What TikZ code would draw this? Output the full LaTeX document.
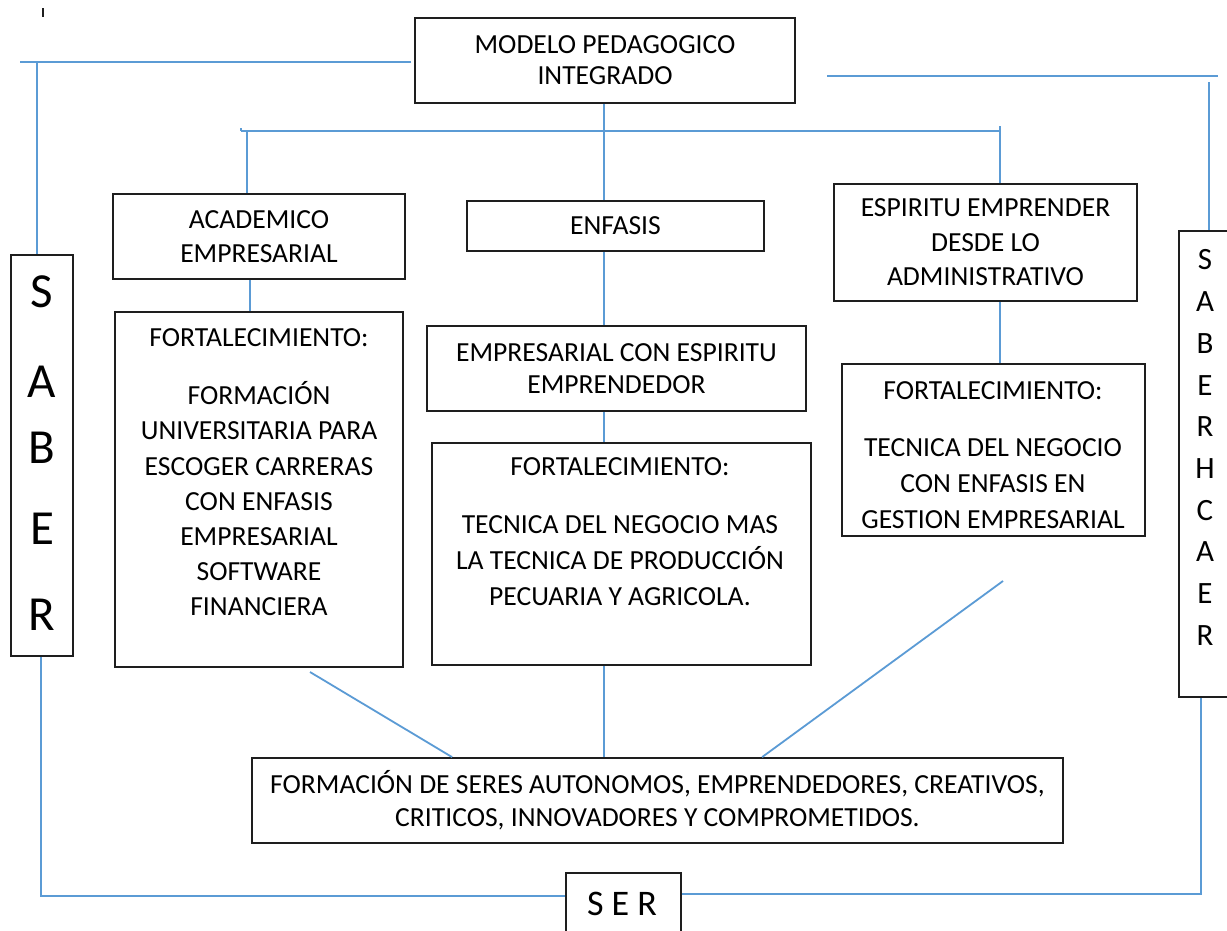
\documentclass[tikz,border=0pt]{standalone}
\usepackage{fontspec}
\setmainfont{Carlito}
\definecolor{linkblue}{RGB}{91,155,213}
\definecolor{boxline}{RGB}{30,30,30}
\begin{document}
\begin{tikzpicture}[x=1pt,y=-1pt,
  box/.style={draw=boxline,line width=1.8pt,rectangle,inner sep=0pt,align=center,
    font=\fontsize{27.6}{34}\selectfont},
  txt/.style={inner sep=0pt,align=center,font=\fontsize{27.6}{36}\selectfont},
  big/.style={inner sep=0pt,font=\fontsize{49}{49}\selectfont},
  mid/.style={inner sep=0pt,font=\fontsize{31}{31}\selectfont},
  link/.style={draw=linkblue,line width=1.8pt}]
\useasboundingbox (0,0) rectangle (1227,930);
\fill[white] (0,0) rectangle (1227,930);

% boxes
\node[box,minimum width=380pt,minimum height=85pt,font=\fontsize{27.6}{31}\selectfont] (top) at (605,60.5) {MODELO PEDAGOGICO\\INTEGRADO};
\node[box,minimum width=292pt,minimum height=85pt] (acad) at (259,236.5) {ACADEMICO\\EMPRESARIAL};
\node[box,minimum width=297pt,minimum height=50pt] (enf) at (615.5,226) {ENFASIS};
\node[box,minimum width=303pt,minimum height=117pt,font=\fontsize{27.6}{34.5}\selectfont] (esp) at (985.5,242.5) {ESPIRITU EMPRENDER\\DESDE LO\\ADMINISTRATIVO};
\node[box,minimum width=379pt,minimum height=85pt,font=\fontsize{27.6}{32}\selectfont] (emp) at (616.5,368.5) {EMPRESARIAL CON ESPIRITU\\EMPRENDEDOR};
\node[box,minimum width=288pt,minimum height=355pt] (lf) at (259,489.5) {};
\node[box,minimum width=379pt,minimum height=222pt] (mf) at (621.5,554) {};
\node[box,minimum width=303pt,minimum height=172pt] (rf) at (993.5,450) {};
\node[box,minimum width=811pt,minimum height=85pt,font=\fontsize{27.6}{33}\selectfont] (form) at (657.5,800.5) {FORMACIÓN DE SERES AUTONOMOS, EMPRENDEDORES, CREATIVOS,\\CRITICOS, INNOVADORES Y COMPROMETIDOS.};
\node[box,minimum width=62pt,minimum height=401pt] (saber) at (42,455.5) {};
\node[box,minimum width=61pt,minimum height=466pt] (sh) at (1209.5,464) {};
\node[box,minimum width=115pt,minimum height=77pt] (ser) at (623.5,911.5) {};

% texts inside the tall boxes
\node[txt,font=\fontsize{27.6}{35.2}\selectfont] (lft) at (259,472.5) {FORTALECIMIENTO:\\[22.8pt]FORMACIÓN\\UNIVERSITARIA PARA\\ESCOGER CARRERAS\\CON ENFASIS\\EMPRESARIAL\\SOFTWARE\\FINANCIERA};
\node[txt] (mft) at (620,532) {FORTALECIMIENTO:\\[22pt]TECNICA DEL NEGOCIO MAS\\LA TECNICA DE PRODUCCIÓN\\PECUARIA Y AGRICOLA.};
\node[txt] (rft) at (993,455.5) {FORTALECIMIENTO:\\[21pt]TECNICA DEL NEGOCIO\\CON ENFASIS EN\\GESTION EMPRESARIAL};

% SABER letters
\node[big] (s1) at (42,292) {S};
\node[big] (s2) at (42,382) {A};
\node[big] (s3) at (42,448) {B};
\node[big] (s4) at (42,529) {E};
\node[big] (s5) at (42,615) {R};

% SABERHCAER letters
\foreach \l [count=\i from 0] in {S,A,B,E,R,H,C,A,E,R}{
  \node[mid] (h\i) at (1205,{260+41.7*\i}) {\l};
}

% SER
\node[inner sep=0pt,font=\fontsize{36}{36}\selectfont] (sert) at (622,904) {S E R};

% small mark top-left
\draw[boxline,line width=1.2pt] (43,8) -- (43,17);

% connectors
\coordinate (tl) at (20,62);
\coordinate (tlc) at (37,62);
\draw[link] ([xshift=-3pt,yshift=-1.5pt]top.west) -- (tl);
\draw[link] (tlc) -- (tlc |- saber.north);

\coordinate (tr1) at (827,76);
\coordinate (tr2) at (1218,76);
\coordinate (trv) at (1209,82);
\draw[link] (tr1) -- (tr2);
\draw[link] (trv) -- (trv |- sh.north);

\coordinate (hl) at (241,131);
\coordinate (hr) at (1000,131);
\coordinate (hrt) at (1000,126);
\coordinate (hlt) at (241,128);
\coordinate (ha) at (247,131);
\coordinate (cx) at (604,131);
\draw[link] (hl) -- (hr);
\draw[link] (hlt) -- (hl);
\draw[link] (cx |- top.south) -- (cx |- enf.north);
\draw[link] (ha) -- (ha |- acad.north);
\draw[link] (hrt) -- (hrt |- esp.north);

\coordinate (av) at (250,300);
\draw[link] (av |- acad.south) -- (av |- lf.north);
\draw[link] (cx |- enf.south) -- (cx |- emp.north);
\draw[link] (cx |- emp.south) -- (cx |- mf.north);
\draw[link] (hrt |- esp.south) -- (hrt |- rf.north);

\coordinate (d1) at (310,672);
\coordinate (d3) at (1003,581);
\draw[link] (d1) -- ([xshift=201pt]form.north west);
\draw[link] (cx |- mf.south) -- (cx |- form.north);
\draw[link] (d3) -- ([xshift=511pt]form.north west);

\coordinate (bl) at (41,896);
\coordinate (br) at (1201,894);
\draw[link] (bl |- saber.south) -- (bl) -- (bl -| ser.west);
\draw[link] (br -| ser.east) -- (br) -- (br |- sh.south);
\end{tikzpicture}
\end{document}
